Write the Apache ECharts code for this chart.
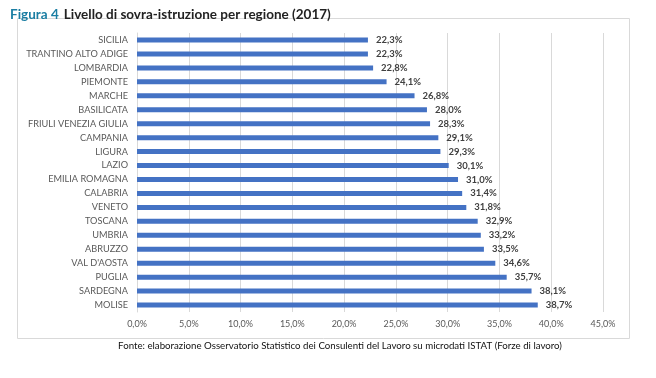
<!DOCTYPE html>
<html><head><meta charset="utf-8">
<script src="https://cdn.jsdelivr.net/npm/echarts@6/dist/echarts.min.js"></script>
<style>html,body{margin:0;padding:0;background:#fff}#c{width:656px;height:378px}</style>
</head><body><div id="c"></div>
<script>
const categories = ["SICILIA","TRANTINO ALTO ADIGE","LOMBARDIA","PIEMONTE","MARCHE","BASILICATA","FRIULI VENEZIA GIULIA","CAMPANIA","LIGURA","LAZIO","EMILIA ROMAGNA","CALABRIA","VENETO","TOSCANA","UMBRIA","ABRUZZO","VAL D'AOSTA","PUGLIA","SARDEGNA","MOLISE"];
const values = [22.3,22.3,22.8,24.1,26.8,28.0,28.3,29.1,29.3,30.1,31.0,31.4,31.8,32.9,33.2,33.5,34.6,35.7,38.1,38.7];
const xTicks = [0,5,10,15,20,25,30,35,40,45];
const fmt = v => v.toFixed(1).replace('.', ',') + '%';
const FONT = 'Lato';
const chart = echarts.init(document.getElementById('c'));
chart.setOption({
  animation: false,
  title: {
    left: 5, top: 1,
    text: '{a|Figura 4} {b|Livello di sovra-istruzione per regione (2017)}',
    textStyle: { rich: {
      a: { fontFamily: FONT, fontWeight: 'bold', fontSize: 13.5, color: '#1b7ea3' },
      b: { fontFamily: FONT, fontWeight: 'bold', fontSize: 13.5, color: '#222' }
    }}
  },
  graphic: [
    { type: 'rect', shape: { x: 17.5, y: 18.5, width: 612, height: 320 }, style: { fill: 'none', stroke: '#d9d9d9', lineWidth: 1 }, z: -1 },
    { type: 'text', x: 340, y: 341, style: { text: 'Fonte: elaborazione Osservatorio Statistico dei Consulenti del Lavoro su microdati ISTAT (Forze di lavoro)', fontFamily: FONT, fontSize: 9.7, fill: '#111', align: 'center' } }
  ],
  grid: { left: 137, right: 53, top: 33, bottom: 66, containLabel: false },
  xAxis: {
    type: 'value', min: xTicks[0], max: xTicks[xTicks.length-1], interval: 5,
    axisLine: { show: false }, axisTick: { show: false },
    splitLine: { lineStyle: { color: '#d9d9d9', width: 1 } },
    axisLabel: { formatter: fmt, color: '#595959', fontFamily: FONT, fontSize: 9, margin: 8 }
  },
  yAxis: {
    type: 'category', data: categories, inverse: true,
    axisLine: { show: true, lineStyle: { color: '#d9d9d9' } }, axisTick: { show: false },
    axisLabel: { color: '#595959', fontFamily: FONT, fontSize: 9.2, margin: 9 }
  },
  series: [{
    type: 'bar', data: values, barWidth: 5,
    itemStyle: { color: '#4472c4' },
    label: { show: true, position: 'right', distance: 8, formatter: p => fmt(p.value), color: '#404040', fontFamily: FONT, fontWeight: 'bold', fontSize: 9.5 }
  }]
});
</script></body></html>
